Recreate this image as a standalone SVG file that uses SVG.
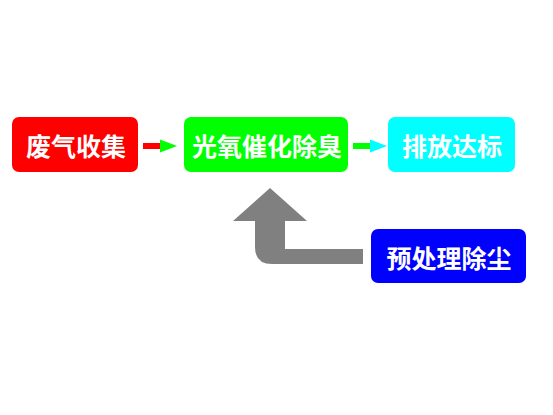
<svg xmlns="http://www.w3.org/2000/svg" width="553" height="415" viewBox="0 0 553 415">
<style>
.box{stroke:none}
.t{font-family:"Noto Sans CJK SC","Noto Sans",sans-serif;font-weight:bold;font-size:25px;fill:#fff;text-anchor:middle;dominant-baseline:central}
</style>
<rect width="553" height="415" fill="#fff"/>
<g id="connectors">
<rect x="143" y="143" width="18" height="6" fill="#ff0000"/>
<polygon points="160,139.5 177,146 160,152.5" fill="#00ff00"/>
<rect x="353" y="143" width="18" height="6" fill="#00ff00"/>
<polygon points="370,139.5 387,146 370,152.5" fill="#00ffff"/>
<path d="M270,188 L307,221 L285,221 L285,249 L363,249 L363,264 L272,264 Q255,264 255,247 L255,221 L233,221 Z" fill="#808080"/>
</g>
<g id="n1">
<rect class="box" x="12" y="117" width="126" height="55" rx="7" fill="#ff0000"/>
<text class="t" x="76" y="145">废气收集</text>
</g>
<g id="n2">
<rect class="box" x="184" y="117" width="164" height="55" rx="7" fill="#00ff00"/>
<text class="t" x="267" y="145">光氧催化除臭</text>
</g>
<g id="n3">
<rect class="box" x="388" y="117" width="127" height="55" rx="7" fill="#00ffff"/>
<text class="t" x="452" y="145">排放达标</text>
</g>
<g id="n4">
<rect class="box" x="371" y="229" width="155" height="54" rx="7" fill="#0000ff"/>
<text class="t" x="449" y="257">预处理除尘</text>
</g>
</svg>
